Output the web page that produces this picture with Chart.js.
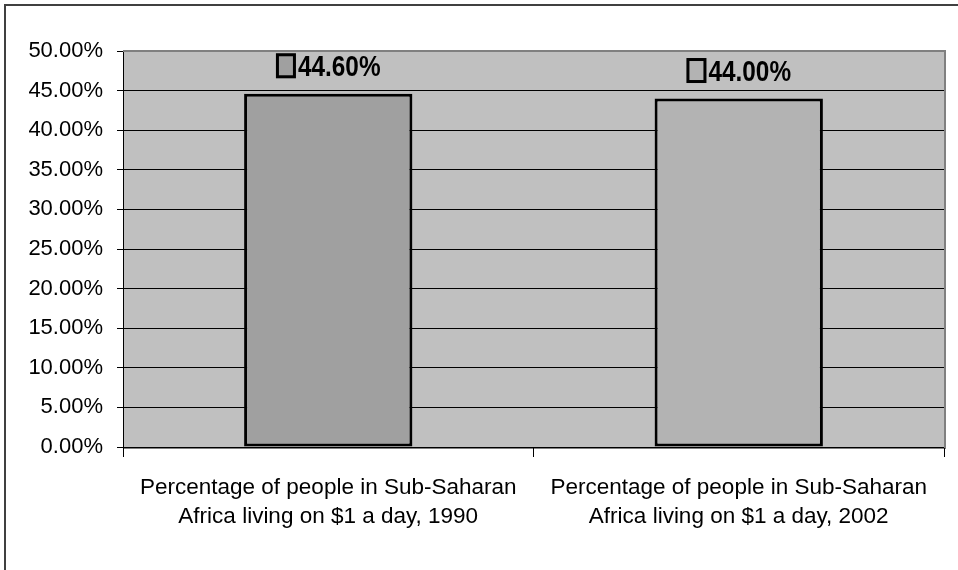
<!DOCTYPE html>
<html>
<head>
<meta charset="utf-8">
<style>
  html, body { margin: 0; padding: 0; background: #fff; }
  #wrap { position: relative; width: 958px; height: 570px; }
</style>
<script src="https://cdn.jsdelivr.net/npm/chart.js@4/dist/chart.umd.min.js"></script>
</head>
<body>
<div id="wrap"><canvas id="povertyChart" width="958" height="570"></canvas></div>
<script>
// data
const categories = [
    ['Percentage of people in Sub-Saharan', 'Africa living on $1 a day, 1990'],
    ['Percentage of people in Sub-Saharan', 'Africa living on $1 a day, 2002']
];
const values = [44.6, 44.0];
const yMin = 0;
const yMax = 50;
const yStep = 5;

const barFills = ['#a0a0a0', '#b3b3b3'];

// gray plot background + outer frame
const backdrop = {
    id: 'backdrop',
    beforeDraw(chart) {
        const c = chart.ctx, a = chart.chartArea;
        c.save();
        c.fillStyle = '#404040';
        c.fillRect(4, 4, chart.width - 4, 2);
        c.fillRect(4, 4, 2, chart.height - 4);
        c.fillStyle = '#c0c0c0';
        c.fillRect(a.left, a.top, a.right - a.left, a.bottom - a.top);
        c.fillStyle = '#808080';
        c.fillRect(a.left, a.bottom, a.right - a.left + 2, 2);
        c.restore();
    },
    afterDatasetsDraw(chart) {
        const c = chart.ctx, a = chart.chartArea;
        c.save();
        c.fillStyle = '#808080';
        c.fillRect(a.left, a.top - 1, a.right - a.left + 2, 2);
        c.fillRect(a.right, a.top - 1, 2, a.bottom - a.top + 2);
        c.restore();
    }
};

// value labels with a small legend key in front
const valueLabels = {
    id: 'valueLabels',
    afterDatasetsDraw(chart) {
        const c = chart.ctx;
        const meta = chart.getDatasetMeta(0);
        c.save();
        c.font = 'bold 29px "Liberation Sans", Arial, sans-serif';
        c.textBaseline = 'alphabetic';
        c.textAlign = 'left';
        meta.data.forEach(function(bar, i) {
            const txt = values[i].toFixed(2) + '%';
            const sx = 0.84;
            const tw = c.measureText(txt).width * sx;
            const keyW = 20, keyH = 25, gap = 2;
            const total = keyW + gap + tw;
            const left = bar.x - total / 2;
            const cy = bar.y - 28;
            c.fillStyle = barFills[i];
            c.fillRect(left, cy - keyH / 2, keyW, keyH);
            c.lineWidth = 3;
            c.strokeStyle = '#000';
            c.strokeRect(left + 1.5, cy - keyH / 2 + 1.5, keyW - 3, keyH - 3);
            c.fillStyle = '#000';
            c.save();
            c.translate(left + keyW + gap, cy + 10.5);
            c.scale(sx, 1);
            c.fillText(txt, 0, 0);
            c.restore();
        });
        c.restore();
    }
};

const ctx = document.getElementById('povertyChart');
new Chart(ctx, {
    type: 'bar',
    data: {
        labels: categories,
        datasets: [{
            data: values,
            backgroundColor: barFills,
            borderColor: '#000',
            borderWidth: 3,
            borderSkipped: false,
            categoryPercentage: 1,
            barPercentage: 0.41
        }]
    },
    options: {
        responsive: false,
        animation: false,
        devicePixelRatio: 1,
        layout: { padding: { top: 51, right: 14, left: 0, bottom: 0 } },
        plugins: {
            legend: { display: false },
            tooltip: { enabled: false }
        },
        scales: {
            x: {
                afterFit(scale) { scale.height = 123; },
                grid: {
                    offset: true,
                    drawOnChartArea: false,
                    drawTicks: true,
                    tickLength: 10,
                    color: '#000',
                    lineWidth: 1
                },
                border: { display: true, color: '#000', width: 1 },
                ticks: {
                    color: '#000',
                    padding: 16,
                    maxRotation: 0,
                    autoSkip: false,
                    font: { family: '"Liberation Sans", Arial, sans-serif', size: 22.5, lineHeight: 1.3 }
                }
            },
            y: {
                min: yMin,
                max: yMax,
                afterFit(scale) { scale.width = 123; },
                grid: {
                    color: '#000',
                    lineWidth: 1,
                    drawTicks: true,
                    tickLength: 6
                },
                border: { display: true, color: '#000', width: 1 },
                ticks: {
                    stepSize: yStep,
                    color: '#000',
                    padding: 14,
                    font: { family: '"Liberation Sans", Arial, sans-serif', size: 22 },
                    callback: function(v) { return v.toFixed(2) + '%'; }
                }
            }
        }
    },
    plugins: [backdrop, valueLabels]
});
</script>
</body>
</html>
